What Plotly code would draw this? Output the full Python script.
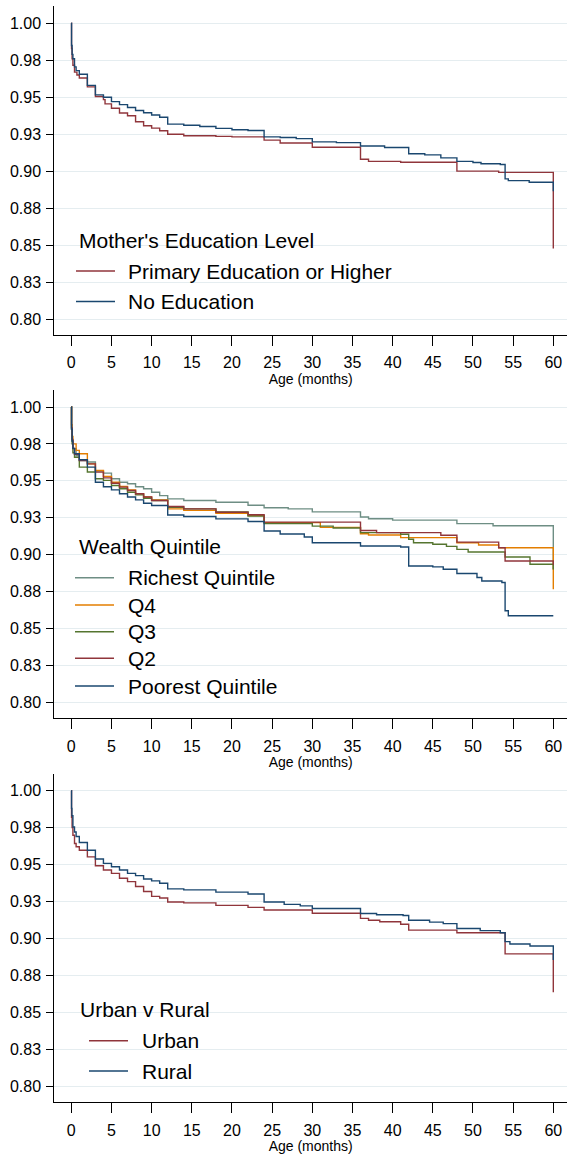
import plotly.graph_objects as go

# ---------------- data ----------------
months_ticks = [0, 5, 10, 15, 20, 25, 30, 35, 40, 45, 50, 55, 60]
surv_tickvals = [0.80, 0.825, 0.85, 0.875, 0.90, 0.925, 0.95, 0.975, 1.00]
surv_ticktext = ["0.80", "0.83", "0.85", "0.88", "0.90", "0.93", "0.95", "0.98", "1.00"]

# Panel 1: Mother's education level
edu_prim_t = [0, 0.03, 0.1, 0.2, 0.4, 0.7, 1, 2, 3, 4, 4.2, 5, 6, 7, 8, 9, 10, 11, 12, 14,
              18, 20, 24, 26, 30, 36, 37, 41, 48, 53.2, 60]
edu_prim_s = [1.0, 0.983, 0.976, 0.9716, 0.967, 0.965, 0.963, 0.957, 0.9505, 0.9484,
              0.9455, 0.9425, 0.9393, 0.9375, 0.9334, 0.9307, 0.9291, 0.9273, 0.925, 0.9239,
              0.9235, 0.9232, 0.921, 0.919, 0.9162, 0.908, 0.9066, 0.906, 0.900, 0.8992, 0.8477]
edu_none_t = [0, 0.03, 0.1, 0.2, 0.4, 0.6, 1, 2, 3, 4, 5, 6, 7, 8, 9, 10, 11, 12, 14, 16,
              18, 20, 22, 24, 26, 28, 30, 33, 36, 39, 42, 44, 46, 48, 50, 51, 53.4, 54, 54.4, 57, 60]
edu_none_s = [1.0, 0.985, 0.979, 0.976, 0.9705, 0.968, 0.9655, 0.958, 0.9516, 0.950,
              0.947, 0.945, 0.943, 0.941, 0.9395, 0.938, 0.9365, 0.9318, 0.931, 0.9302,
              0.9289, 0.928, 0.9275, 0.9232, 0.9228, 0.922, 0.9198, 0.9193, 0.917, 0.916,
              0.9118, 0.911, 0.909, 0.9066, 0.9058, 0.905, 0.9045, 0.8948, 0.8936, 0.8925, 0.8864]

# Panel 2: Wealth quintile
wq_rich_t = [0, 0.03, 0.1, 0.2, 0.6, 1, 2, 3, 4, 5, 6, 7, 8, 9, 10, 11, 12, 14, 18, 22,
             24, 27, 30, 36, 37, 40, 48, 52.5, 60]
wq_rich_s = [1.0, 0.985, 0.977, 0.9717, 0.967, 0.9638, 0.9627, 0.9566, 0.9552, 0.9514,
             0.949, 0.948, 0.946, 0.9446, 0.9423, 0.940, 0.9378, 0.9367, 0.9355, 0.9335,
             0.9318, 0.931, 0.929, 0.9255, 0.9243, 0.9234, 0.921, 0.9196, 0.890]
wq_q4_t = [0, 0.03, 0.1, 0.2, 0.6, 1, 2, 3, 4, 5, 6, 7, 8, 9, 10, 12, 14, 18, 22, 24,
           31, 36, 37, 41, 48, 50.7, 53.2, 60]
wq_q4_s = [1.0, 0.988, 0.98, 0.975, 0.9706, 0.9683, 0.9615, 0.957, 0.953, 0.949,
           0.9462, 0.9439, 0.9412, 0.939, 0.9371, 0.931, 0.930, 0.928, 0.9265, 0.9217,
           0.9185, 0.9142, 0.9133, 0.9115, 0.9081, 0.9065, 0.9047, 0.8766]
wq_q3_t = [0, 0.03, 0.1, 0.2, 0.4, 1, 2, 3, 4, 5, 6, 7, 8, 9, 10, 12, 14, 18, 22, 24,
           30, 32.6, 36, 41, 42, 42.6, 45, 46.7, 48, 49.4, 54, 57.1, 60]
wq_q3_s = [1.0, 0.985, 0.975, 0.969, 0.966, 0.9593, 0.956, 0.9514, 0.9503, 0.9468,
           0.9446, 0.9423, 0.9405, 0.9382, 0.9367, 0.9321, 0.931, 0.929, 0.9262, 0.921,
           0.9193, 0.918, 0.9149, 0.9138, 0.9104, 0.9081, 0.907, 0.9056, 0.9036, 0.9018,
           0.8984, 0.8935, 0.890]
wq_q2_t = [0, 0.03, 0.1, 0.2, 0.4, 1, 2, 3, 4, 5, 6, 7, 8, 9, 10, 12, 14, 18, 22, 24,
           36, 38, 46, 48, 53.2, 54, 60]
wq_q2_s = [1.0, 0.986, 0.978, 0.972, 0.968, 0.9638, 0.9615, 0.9559, 0.952, 0.9484,
           0.9457, 0.9434, 0.9412, 0.939, 0.9367, 0.9326, 0.931, 0.9287, 0.927, 0.922,
           0.9164, 0.9149, 0.9131, 0.9085, 0.9047, 0.8957, 0.893]
wq_poor_t = [0, 0.03, 0.1, 0.2, 0.4, 1, 2, 3, 4, 5, 6, 7, 8, 9, 10, 12, 14, 18, 22, 24,
             26, 29, 30, 36, 41, 42, 45, 46.3, 48, 50.5, 51.1, 53.6, 54, 54.4, 60]
wq_poor_s = [1.0, 0.985, 0.977, 0.972, 0.9683, 0.9643, 0.9593, 0.949, 0.946, 0.9439,
             0.9412, 0.939, 0.9371, 0.9348, 0.9333, 0.9269, 0.9258, 0.9242, 0.9225, 0.916,
             0.914, 0.912, 0.9081, 0.9059, 0.9052, 0.8923, 0.8917, 0.8901, 0.8872, 0.8845,
             0.8822, 0.8811, 0.862, 0.8586, 0.8586]

# Panel 3: Urban v Rural
ur_urban_t = [0, 0.03, 0.1, 0.2, 0.4, 0.6, 1, 2, 3, 4, 5, 6, 7, 8, 9, 10, 11, 12, 14, 18,
              22, 24, 30, 36, 37, 38.4, 41, 42, 48, 54, 60]
ur_urban_s = [1.0, 0.982, 0.975, 0.9698, 0.9642, 0.962, 0.9597, 0.9552, 0.9492, 0.9463,
              0.944, 0.9407, 0.9384, 0.9351, 0.9317, 0.9284, 0.9273, 0.9246, 0.924, 0.9223,
              0.921, 0.9192, 0.917, 0.9135, 0.9123, 0.9112, 0.9096, 0.9056, 0.9038, 0.8895, 0.8635]
ur_rural_t = [0, 0.03, 0.08, 0.2, 0.4, 0.6, 1, 2, 3, 4, 5, 6, 7, 8, 9, 10, 11, 12, 14, 18,
              22, 24, 26.5, 28.5, 30, 36, 38, 41.3, 42, 44.6, 46.3, 48, 50.9, 53.4, 54, 54.6, 57.1, 60]
ur_rural_s = [1.0, 0.988, 0.983, 0.9754, 0.972, 0.969, 0.9649, 0.9597, 0.9537, 0.9508,
              0.9485, 0.9463, 0.944, 0.9425, 0.9402, 0.9389, 0.9373, 0.9335, 0.9328, 0.9313,
              0.930, 0.9246, 0.923, 0.922, 0.9202, 0.9168, 0.916, 0.9155, 0.9123, 0.911,
              0.910, 0.9067, 0.9052, 0.9038, 0.8978, 0.8962, 0.8948, 0.8854]

legend_titles = ["Mother's Education Level", "Wealth Quintile", "Urban v Rural"]

# ---------------- styling ----------------
NAVY = "#1a476f"
MAROON = "#90353b"
GREEN = "#55752f"
ORANGE = "#e37e00"
TEAL = "#6e8e84"
GRID = "#e5edf0"
FONT = "Liberation Sans, Arial, Helvetica, sans-serif"
W, H = 567, 1155

series = [
    # panel, name, t, s, color
    (0, "Primary Education or Higher", edu_prim_t, edu_prim_s, MAROON),
    (0, "No Education", edu_none_t, edu_none_s, NAVY),
    (1, "Richest Quintile", wq_rich_t, wq_rich_s, TEAL),
    (1, "Q4", wq_q4_t, wq_q4_s, ORANGE),
    (1, "Q3", wq_q3_t, wq_q3_s, GREEN),
    (1, "Q2", wq_q2_t, wq_q2_s, MAROON),
    (1, "Poorest Quintile", wq_poor_t, wq_poor_s, NAVY),
    (2, "Urban", ur_urban_t, ur_urban_s, MAROON),
    (2, "Rural", ur_rural_t, ur_rural_s, NAVY),
]

# pixel layout of each panel: plot top, plot bottom, pixel of y=1.00, pixel of y=0.80
panels = [
    dict(top=6.0, bottom=335.0, p1=23.3, p08=319.0),
    dict(top=390.0, bottom=718.3, p1=407.0, p08=702.3),
    dict(top=774.0, bottom=1102.3, p1=790.7, p08=1086.0),
]
x_left_px, x0_px, x60_px = 54.3, 71.3, 553.3
ppm = (x60_px - x0_px) / 60.0
x_range = [(x_left_px - x0_px) / ppm, 60 + (W - x60_px) / ppm]

# legend layout (pixels): title pos, line x0/x1, text x, item y's
legend_layout = [
    dict(tx=77, ty=240, lx0=76, lx1=115, textx=126, ys=[271, 301.5]),
    dict(tx=77, ty=546.5, lx0=75, lx1=114, textx=125.5, ys=[577.7, 605, 631.7, 658.3, 686]),
    dict(tx=77.5, ty=1009.3, lx0=89, lx1=128, textx=139.5, ys=[1040.7, 1071]),
]

fig = go.Figure()
for (pi, name, t, s, col) in series:
    sfx = "" if pi == 0 else str(pi + 1)
    fig.add_trace(go.Scatter(
        x=t, y=s, mode="lines", name=name, line=dict(color=col, width=1.4, shape="hv"),
        xaxis="x" + sfx, yaxis="y" + sfx, showlegend=False, hoverinfo="x+y+name"))

layout = dict(
    width=W, height=H, margin=dict(l=0, r=0, t=0, b=0),
    paper_bgcolor="white", plot_bgcolor="white",
    font=dict(family=FONT, color="black"),
    showlegend=False,
)
annotations = []
shapes = []
for pi, p in enumerate(panels):
    sfx = "" if pi == 0 else str(pi + 1)
    scale = 0.2 / (p["p08"] - p["p1"])
    y_hi = 1.0 + (p["p1"] - p["top"]) * scale
    y_lo = 1.0 - (p["bottom"] - p["p1"]) * scale
    layout["xaxis" + sfx] = dict(
        domain=[x_left_px / W, 1.0], range=x_range, anchor="y" + sfx,
        tickvals=months_ticks, ticks="outside", ticklen=10, tickwidth=1, tickcolor="black",
        showline=True, linecolor="black", linewidth=1, showgrid=False, zeroline=False,
        tickfont=dict(size=16, color="black", family=FONT), ticklabelstandoff=3,
        title=dict(text="Age (months)", font=dict(size=14, color="black", family=FONT), standoff=0),
        automargin=False, fixedrange=True)
    layout["yaxis" + sfx] = dict(
        domain=[1 - p["bottom"] / H, 1 - p["top"] / H], range=[y_lo, y_hi], anchor="x" + sfx,
        tickvals=surv_tickvals, ticktext=surv_ticktext, ticks="outside", ticklen=7,
        tickwidth=1, tickcolor="black", showline=True, linecolor="black", linewidth=1,
        showgrid=True, gridcolor=GRID, gridwidth=1, zeroline=False,
        tickfont=dict(size=16, color="black", family=FONT), ticklabelstandoff=2,
        automargin=False, fixedrange=True)

    # legend (drawn inside plot region, lower-left)
    lg = legend_layout[pi]
    annotations.append(dict(
        text=legend_titles[pi], xref="paper", yref="paper", x=lg["tx"] / W, y=1 - lg["ty"] / H,
        xanchor="left", yanchor="middle", showarrow=False,
        font=dict(size=21, color="black", family=FONT)))
    items = [srs for srs in series if srs[0] == pi]
    for (_, name, _, _, col), yy in zip(items, lg["ys"]):
        shapes.append(dict(type="line", xref="paper", yref="paper",
                           x0=lg["lx0"] / W, x1=lg["lx1"] / W, y0=1 - yy / H, y1=1 - yy / H,
                           line=dict(color=col, width=1.4)))
        annotations.append(dict(
            text=name, xref="paper", yref="paper", x=lg["textx"] / W, y=1 - yy / H,
            xanchor="left", yanchor="middle", showarrow=False,
            font=dict(size=21, color="black", family=FONT)))

layout["annotations"] = annotations
layout["shapes"] = shapes
fig.update_layout(**layout)
fig.write_html("out.html")
